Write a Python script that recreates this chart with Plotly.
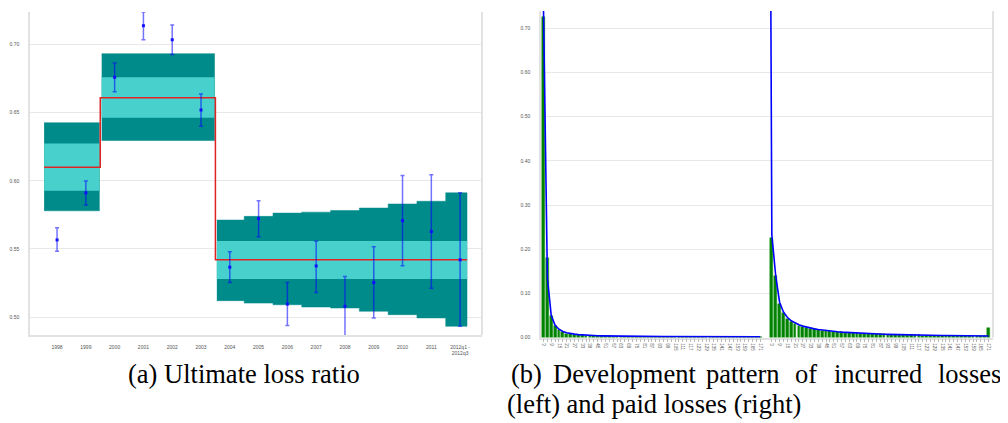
import plotly.graph_objects as go

# the page body has an 8px margin: the figure is placed at (8, 8) in the 1008x423 window
PAGE_W, PAGE_H, OFF = 1008, 423, 8
W, H = PAGE_W - OFF, PAGE_H - OFF

# ---------------- (a) Ultimate loss ratio ----------------
years = ["1998", "1999", "2000", "2001", "2002", "2003", "2004", "2005", "2006",
         "2007", "2008", "2009", "2010", "2011", "2012q1 -<br>2012q3"]
lr_center = [0.5566, 0.5912, 0.676, 0.7139, 0.7036, 0.652, 0.5366, 0.5723, 0.5095,
             0.5375, 0.5078, 0.5253, 0.5708, 0.5628, 0.542]
lr_upper = [0.5655, 0.5998, 0.6866, 0.7239, 0.7144, 0.6637, 0.548, 0.5854, 0.5253,
            0.5556, 0.5297, 0.5515, 0.6039, 0.6044, 0.5912]
lr_lower = [0.5482, 0.5823, 0.6655, 0.7036, 0.6928, 0.640, 0.5253, 0.5589, 0.4937,
            0.5180, 0.4859, 0.4993, 0.5376, 0.5212, 0.4932]

# three groups of years (index of first / last year)
grp_first = [0, 2, 6]
grp_last = [1, 5, 14]
grp_mean = [0.610, 0.661, 0.542]
grp_inner_hi = [0.6274, 0.676, 0.5558]
grp_inner_lo = [0.5927, 0.6464, 0.528]
outer_hi = [0.6427, 0.6427, 0.6934, 0.6934, 0.6934, 0.6934,
            0.5712, 0.5739, 0.5763, 0.5770, 0.5782, 0.5800, 0.5830, 0.5850, 0.5912]
outer_lo = [0.578, 0.578, 0.6296, 0.6296, 0.6296, 0.6296,
            0.5120, 0.5102, 0.5090, 0.5073, 0.5066, 0.5042, 0.5017, 0.4993, 0.4932]

# ---------------- (b) Development pattern ----------------
incurred_bars = [0.725, 0.18, 0.05, 0.027, 0.017, 0.012, 0.009, 0.0075, 0.0065, 0.0055,
                 0.005, 0.0045, 0.004, 0.0037, 0.0034, 0.0031, 0.0029, 0.0027, 0.0025, 0.0024,
                 0.0023, 0.0022, 0.0021, 0.002, 0.0019, 0.0018, 0.0018, 0.0017, 0.0017, 0.0016,
                 0.0016, 0.0015, 0.0015, 0.0015, 0.0014, 0.0014, 0.0014, 0.0013, 0.0013, 0.0013,
                 0.0012, 0.0012, 0.0012, 0.0012, 0.0011, 0.0011, 0.0011, 0.0011, 0.001, 0.001,
                 0.001, 0.001, 0.001, 0.0009, 0.0009, 0.0009, 0.0009]
incurred_line = [0.739, 0.135, 0.05, 0.028, 0.019, 0.014, 0.011, 0.009, 0.0078, 0.0068,
                 0.006, 0.0054, 0.0049, 0.0045, 0.0042, 0.0039, 0.0037, 0.0035, 0.0033, 0.0031,
                 0.003, 0.0029, 0.0028, 0.0027, 0.0026, 0.0025, 0.0025, 0.0024, 0.0024, 0.0023,
                 0.0023, 0.0022, 0.0022, 0.0022, 0.0021, 0.0021, 0.0021, 0.002, 0.002, 0.002,
                 0.002, 0.0019, 0.0019, 0.0019, 0.0019, 0.0018, 0.0018, 0.0018, 0.0018, 0.0018,
                 0.0017, 0.0017, 0.0017, 0.0017, 0.0017, 0.0016, 0.0016]
paid_bars = [0.225, 0.14, 0.075, 0.055, 0.042, 0.035, 0.030, 0.027, 0.024, 0.022,
             0.020, 0.0185, 0.017, 0.016, 0.015, 0.014, 0.0133, 0.0126, 0.012, 0.0114,
             0.0108, 0.0103, 0.0098, 0.0093, 0.0089, 0.0085, 0.0081, 0.0077, 0.0074, 0.0071,
             0.0068, 0.0065, 0.0062, 0.006, 0.0057, 0.0055, 0.0053, 0.0051, 0.0049, 0.0047,
             0.0045, 0.0044, 0.0042, 0.0041, 0.004, 0.0039, 0.0038, 0.0037, 0.0036, 0.0035,
             0.0034, 0.0033, 0.0033, 0.0032, 0.0031, 0.003, 0.022]
paid_line = [0.232, 0.14, 0.08, 0.058, 0.046, 0.038, 0.033, 0.029, 0.026, 0.0235,
             0.0215, 0.0198, 0.0183, 0.017, 0.0159, 0.0149, 0.014, 0.0132, 0.0125, 0.0119,
             0.0113, 0.0108, 0.0103, 0.0098, 0.0094, 0.009, 0.0086, 0.0083, 0.008, 0.0077,
             0.0074, 0.0071, 0.0069, 0.0067, 0.0065, 0.0063, 0.0061, 0.0059, 0.0057, 0.0056,
             0.0054, 0.0053, 0.0051, 0.005, 0.0049, 0.0048, 0.0047, 0.0046, 0.0045, 0.0044,
             0.0043, 0.0042, 0.0041, 0.004, 0.0039, 0.0038, 0.0037]
paid_line_peak = 0.739
lag_months = [3 * (k + 1) for k in range(len(incurred_bars))]  # development lag (months)
ratio_ticks = [0.50, 0.55, 0.60, 0.65, 0.70]
pattern_ticks = [0.0, 0.1, 0.2, 0.3, 0.4, 0.5, 0.6, 0.7]

# ---------------- styling ----------------
DARK = "#008B8B"
LIGHT = "#48D1CC"
GRID = "#e8e8e8"
AXL = "#e2e2e2"
TICKF = dict(family="Liberation Sans", size=5, color="#555555")
SERIF = "'Liberation Serif', 'DejaVu Serif', serif"

fig = go.Figure()


def year_edges(i, g):
    left = i - 0.5 if i != grp_first[g] else i - 0.45
    if i == grp_last[g]:
        right = i + (0.24 if i == len(years) - 1 else 0.47)
    else:
        right = i + 0.5
    return left, right


# ---- left: bands
for g in range(3):
    idx = list(range(grp_first[g], grp_last[g] + 1))
    xs, ys = [], []
    for i in idx:
        l, r = year_edges(i, g)
        xs += [l, r]
        ys += [outer_hi[i], outer_hi[i]]
    for i in reversed(idx):
        l, r = year_edges(i, g)
        xs += [r, l]
        ys += [outer_lo[i], outer_lo[i]]
    fig.add_trace(go.Scatter(x=xs, y=ys, fill="toself", fillcolor=DARK, mode="lines",
                             line=dict(color=DARK, width=0.5), xaxis="x", yaxis="y",
                             hoverinfo="skip", showlegend=False))
    l0, _ = year_edges(idx[0], g)
    _, r1 = year_edges(idx[-1], g)
    fig.add_trace(go.Scatter(x=[l0, r1, r1, l0], y=[grp_inner_hi[g]] * 2 + [grp_inner_lo[g]] * 2,
                             fill="toself", fillcolor=LIGHT, mode="lines",
                             line=dict(color=LIGHT, width=0), xaxis="x", yaxis="y",
                             hoverinfo="skip", showlegend=False))

# ---- left: red mean line (step)
rx, ry = [], []
for g in range(3):
    l0, _ = year_edges(grp_first[g], g)
    _, r1 = year_edges(grp_last[g], g)
    if g > 0:
        l0 = rx[-1]
    if g < 2:
        r1 = grp_last[g] + 0.5
    rx += [l0, r1]
    ry += [grp_mean[g], grp_mean[g]]
fig.add_trace(go.Scatter(x=rx, y=ry, mode="lines", line=dict(color="#e02424", width=1.5),
                         xaxis="x", yaxis="y", hoverinfo="skip", showlegend=False))

# ---- left: error bars
xi = list(range(len(years)))
fig.add_trace(go.Scatter(
    x=xi, y=lr_center, mode="markers",
    marker=dict(symbol="square", size=3, color="#1010ff"),
    error_y=dict(type="data", symmetric=False,
                 array=[u - c for u, c in zip(lr_upper, lr_center)],
                 arrayminus=[c - lo for c, lo in zip(lr_center, lr_lower)],
                 color="rgba(0,0,255,0.55)", thickness=1.5, width=2),
    xaxis="x", yaxis="y", showlegend=False))

# ---- right: bars and line
n = len(incurred_bars)
gap = 2
x_inc = list(range(n))
x_paid = [n + gap + k for k in range(len(paid_bars))]
fig.add_trace(go.Bar(x=x_inc + x_paid, y=incurred_bars + paid_bars,
                     marker=dict(color="#008000", line=dict(color="#2e9e2e", width=0.5)),
                     width=0.72, xaxis="x2", yaxis="y2", showlegend=False))
line_x = x_inc + [None] + [x_paid[0] - 0.25] + x_paid
line_y = incurred_line + [None] + [paid_line_peak] + paid_line
fig.add_trace(go.Scatter(x=line_x, y=line_y, mode="lines", connectgaps=False,
                         line=dict(color="#0000ff", width=1.6),
                         xaxis="x2", yaxis="y2", showlegend=False))

tick_v = x_inc + x_paid
tick_t = [str(lag_months[k]) if k % 2 == 0 else "" for k in range(n)] + \
         [str(lag_months[k]) if k % 2 == 0 else "" for k in range(len(paid_bars))]


# ---- layout (positions given in window pixels)
def px2x(px):
    return (px - OFF) / W


def px2y(py):
    return 1 - (py - OFF) / H


fig.update_layout(
    width=W, height=H, margin=dict(l=0, r=0, t=0, b=0),
    paper_bgcolor="white", plot_bgcolor="white", bargap=0,
    xaxis=dict(domain=[px2x(30), px2x(482)], range=[-0.94, 14.76],
               tickvals=xi, ticktext=years, tickfont=TICKF, showgrid=False,
               zeroline=False, showline=True, linecolor=AXL, linewidth=1.5,
               ticks="", ticklabelstandoff=6),
    yaxis=dict(domain=[px2y(337.5), px2y(12)], range=[0.4867, 0.724],
               tickvals=ratio_ticks, ticktext=["%.2f" % v for v in ratio_ticks],
               tickfont=TICKF, showgrid=True, gridcolor=GRID, gridwidth=1,
               zeroline=False, showline=True, linecolor=AXL, linewidth=1.5,
               ticks="", ticklabelstandoff=8),
    xaxis2=dict(domain=[px2x(541), px2x(993)], range=[-0.65, 116.15], anchor="y2",
                tickvals=tick_v, ticktext=tick_t, tickangle=90, tickfont=dict(TICKF, size=4.5),
                showgrid=False, zeroline=False, showline=True, linecolor=AXL, linewidth=1.5,
                ticks="outside", ticklen=3, tickcolor="#bbbbbb", tickwidth=0.8),
    yaxis2=dict(domain=[px2y(340), px2y(11)], range=[0, 0.739], anchor="x2",
                tickvals=pattern_ticks, ticktext=["%.2f" % v for v in pattern_ticks],
                tickfont=TICKF, showgrid=True, gridcolor=GRID, gridwidth=1,
                zeroline=False, showline=True, linecolor=AXL, linewidth=1.5,
                ticks="", ticklabelstandoff=8),
    shapes=[
        dict(type="line", xref="x domain", yref="y domain", x0=1, x1=1, y0=0, y1=1,
             line=dict(color=AXL, width=2)),
        dict(type="line", xref="x2 domain", yref="y2 domain", x0=1, x1=1, y0=0, y1=1,
             line=dict(color=AXL, width=2)),
    ],
)

cap_font = dict(family=SERIF, size=26.5, color="black")
annotations = [
    dict(text="(a) Ultimate loss ratio", x=px2x(244), y=px2y(377), xanchor="center",
         yanchor="middle"),
]
# justified first line of caption (b): word centres
words = [("(b)", 526), ("Development", 624.5), ("pattern", 742.5), ("of", 806),
         ("incurred", 877.5), ("losses", 969)]
for w_, xp in words:
    annotations.append(dict(text=w_, x=px2x(xp), y=px2y(377), xanchor="center",
                            yanchor="middle"))
annotations.append(dict(text="(left) and paid losses (right)", x=px2x(505), y=px2y(407),
                        xanchor="left", yanchor="middle"))
for a in annotations:
    a.update(xref="paper", yref="paper", showarrow=False, font=cap_font)
fig.update_layout(annotations=annotations)

fig.write_html("out.html")
